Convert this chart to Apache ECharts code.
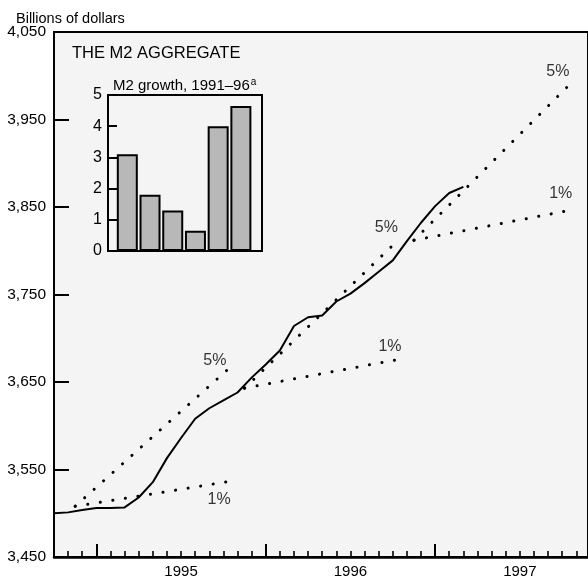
<!DOCTYPE html>
<html><head><meta charset="utf-8">
<script src="https://cdn.jsdelivr.net/npm/echarts@6/dist/echarts.min.js"></script>
<style>html,body{margin:0;padding:0;background:#fff}#c{width:588px;height:579px}</style>
</head><body><div id="c"></div>
<script>
const FONT = "'Liberation Sans', Arial, Helvetica, sans-serif";

// ---- Main chart data (months counted from Jan 1995 = 0) ----
const m2Start = '1994-10';
const m2Values = [3500, 3501, 3503.6, 3506, 3506, 3506.7, 3518, 3535.5, 3563, 3586,
                  3608, 3620, 3629, 3638, 3655, 3670, 3686, 3714, 3724, 3726,
                  3742, 3751, 3763, 3776, 3789, 3811, 3832, 3851, 3866, 3873];

const coneBase = [[-1.5, 3508], [10.5, 3643], [22.5, 3812]];
const cone5End = [[9.7, 3670], [21.5, 3814], [33.9, 3996]];
const cone1End = [[9.7, 3537], [21.8, 3677], [33.8, 3847]];

const coneLabelText = ['5%', '1%', '5%', '1%', '5%', '1%'];
const coneLabelPos  = [[8.4, 3675], [8.7, 3516], [20.55, 3826], [20.8, 3690], [32.7, 4005], [32.9, 3865]];

const yTicks = [3450, 3550, 3650, 3750, 3850, 3950, 4050];
const yearLabels = ['1995', '1996', '1997'];
const yearLabelMonths = [6, 18, 30];
const yearStartMonths = [0, 12, 24];

// ---- Inset data ----
const insetYears = [1991, 1992, 1993, 1994, 1995, 1996];
const insetGrowth = [3.1, 1.8, 1.3, 0.65, 4.0, 4.65];
const insetTicks = [0, 1, 2, 3, 4, 5];

function monthIndex(s) {
  const [y, m] = s.split('-').map(Number);
  return (y - 1995) * 12 + (m - 1);
}
const m0 = monthIndex(m2Start);
const m2Data = m2Values.map((v, i) => [m0 + i, v]);

const dotStyle = { color: '#000', width: 3, type: [0.1, 12.6], cap: 'round' };
const coneSeries = [];
coneBase.forEach((b, i) => {
  coneSeries.push({ type: 'line', xAxisIndex: 0, yAxisIndex: 0, data: [b, cone5End[i]],
    symbol: 'none', lineStyle: dotStyle, silent: true, z: 3 });
  coneSeries.push({ type: 'line', xAxisIndex: 0, yAxisIndex: 0, data: [b, cone1End[i]],
    symbol: 'none', lineStyle: dotStyle, silent: true, z: 3 });
});

const XMIN = -3, XMAX = 34.83;
const txt = { color: '#000', fontFamily: FONT };

const option = {
  animation: false,
  backgroundColor: '#fff',
  textStyle: { fontFamily: FONT, color: '#000' },
  title: [
    { text: 'Billions of dollars', left: 11, top: 6,
      textStyle: { ...txt, fontSize: 14.5, fontWeight: 'normal' } },
    { text: 'THE M2 AGGREGATE', left: 67, top: 40,
      textStyle: { ...txt, fontSize: 16.5, fontWeight: 'normal' } },
    { text: '{m|M2 growth, 1991\u201396}{s|a}', left: 108, top: 72,
      textStyle: { ...txt, fontSize: 15, fontWeight: 'normal',
        rich: { m: { ...txt, fontSize: 15 }, s: { ...txt, fontSize: 10, verticalAlign: 'top', padding: [0, 0, 8, 1] } } } }
  ],
  grid: [
    { left: 54, top: 32, right: -2, bottom: 22, show: true, backgroundColor: '#f4f4f4',
      borderColor: '#000', borderWidth: 2, containLabel: false },
    { left: 108, top: 95, width: 154, height: 156, show: true, backgroundColor: 'transparent',
      borderColor: '#000', borderWidth: 2, containLabel: false, z: 5 }
  ],
  xAxis: [
    { type: 'value', gridIndex: 0, min: XMIN, max: XMAX, interval: 1, position: 'bottom',
      axisLine: { show: true, onZero: false, lineStyle: { color: '#000', width: 2.5 } },
      axisTick: { show: true, inside: true, length: 6, lineStyle: { color: '#000', width: 1.6 } },
      axisLabel: { show: true, customValues: yearLabelMonths, margin: 7, fontSize: 15, color: '#000', fontFamily: FONT,
        formatter: v => yearLabels[yearLabelMonths.indexOf(v)] || '' },
      splitLine: { show: false } },
    { type: 'value', gridIndex: 0, min: XMIN, max: XMAX, position: 'bottom',
      axisLine: { show: false, onZero: false },
      axisTick: { show: true, inside: true, length: 13, customValues: yearStartMonths, lineStyle: { color: '#000', width: 2 } },
      axisLabel: { show: false }, splitLine: { show: false } },
    { type: 'value', gridIndex: 1, min: 1990.15, max: 1996.93,
      axisLine: { show: false }, axisTick: { show: false }, axisLabel: { show: false }, splitLine: { show: false } }
  ],
  yAxis: [
    { type: 'value', gridIndex: 0, min: 3450, max: 4050, interval: 100,
      axisLine: { show: true, onZero: false, lineStyle: { color: '#000', width: 2 } },
      axisTick: { show: true, inside: true, length: 15, lineStyle: { color: '#000', width: 2 } },
      axisLabel: { margin: 8, fontSize: 15.5, color: '#000', fontFamily: FONT,
        formatter: v => yTicks.includes(v) ? v.toLocaleString('en-US') : '' },
      splitLine: { show: false } },
    { type: 'value', gridIndex: 1, min: 0, max: 5, interval: 1,
      axisLine: { show: true, onZero: false, lineStyle: { color: '#000', width: 2 } },
      axisTick: { show: true, inside: true, length: 9, lineStyle: { color: '#000', width: 2 } },
      axisLabel: { margin: 6, fontSize: 16, color: '#000', fontFamily: FONT,
        formatter: v => insetTicks.includes(v) ? String(v) : '' },
      splitLine: { show: false } }
  ],
  series: [
    ...coneSeries,
    { type: 'line', xAxisIndex: 0, yAxisIndex: 0, data: m2Data, symbol: 'none',
      lineStyle: { color: '#000', width: 2 }, silent: true, z: 4 },
    { type: 'scatter', xAxisIndex: 0, yAxisIndex: 0, symbol: 'circle', symbolSize: 1,
      itemStyle: { color: 'transparent' }, silent: true, z: 6,
      data: coneLabelPos.map((p, i) => [p[0], p[1], coneLabelText[i]]),
      label: { show: true, position: 'inside', formatter: p => p.data[2],
        fontSize: 16, color: '#000', fontFamily: FONT } },
    { type: 'bar', xAxisIndex: 2, yAxisIndex: 1, barWidth: 21, silent: true, z: 6,
      data: insetYears.map((y, i) => [y, insetGrowth[i]]),
      itemStyle: { color: '#b8b8b8', borderColor: '#000', borderWidth: 2 } }
  ]
};

const chart = echarts.init(document.getElementById('c'), null, { renderer: 'canvas' });
chart.setOption(option);
</script>
</body></html>
